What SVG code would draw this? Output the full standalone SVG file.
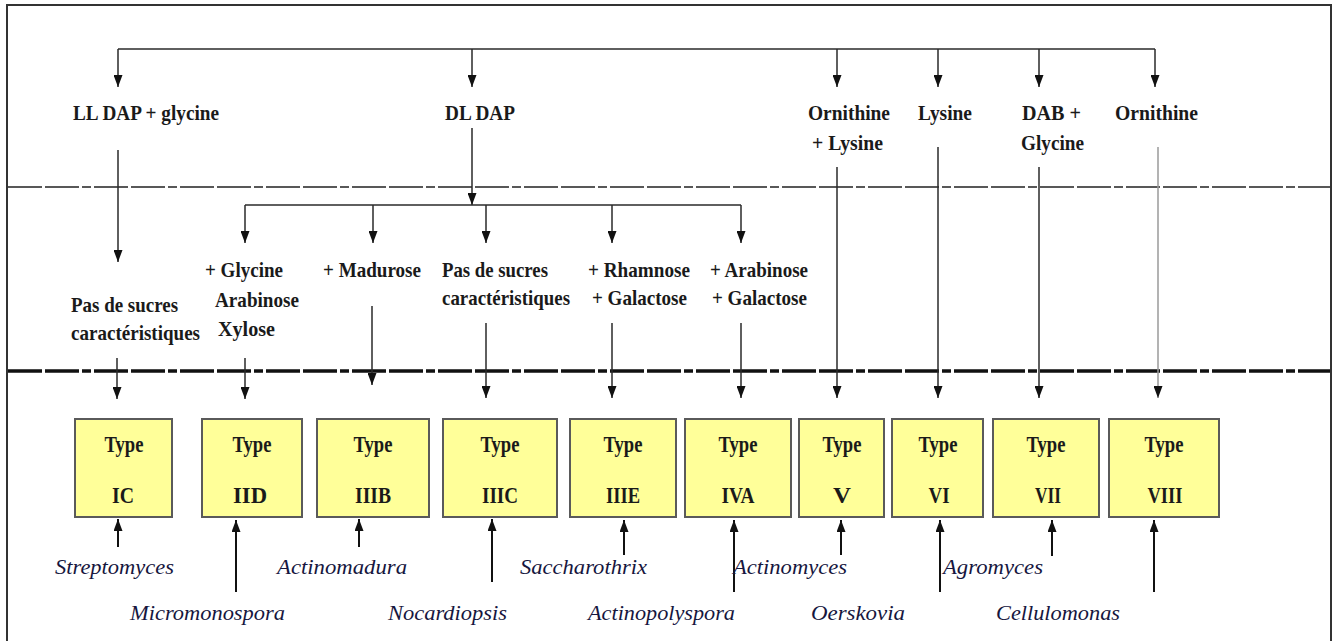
<svg xmlns="http://www.w3.org/2000/svg" width="1338" height="641" viewBox="0 0 1338 641" font-family="Liberation Serif">
<style>
.lbl{font-weight:bold;font-size:21px;fill:#1a1a1a}
.typ{font-weight:bold;font-size:24px;fill:#1a1a1a;text-anchor:middle}
.gen{font-style:italic;font-size:22px;fill:#16163e}
.box{fill:#FFFF99;stroke:#5a5a5a;stroke-width:2}
.c{stroke:#2a2a2a;stroke-width:1.5;fill:none}
.cd{stroke:#2a2a2a;stroke-width:1.5;fill:none;marker-end:url(#ah)}
.cg{stroke:#9a9a9a;stroke-width:1.5;fill:none;marker-end:url(#ah)}
.up{stroke:#111;stroke-width:2;fill:none;marker-end:url(#ah)}
.sep{stroke-dasharray:34 3 34 3 9 3}
</style>
<defs>
<marker id="ah" viewBox="0 0 12 9" refX="12" refY="4.5" markerWidth="12" markerHeight="9" markerUnits="userSpaceOnUse" orient="auto">
<path d="M0,0 L12,4.5 L0,9 z" fill="#111"/>
</marker>
</defs>
<rect x="0" y="0" width="1338" height="641" fill="#fff"/>
<rect x="7" y="5" width="1324" height="650" fill="#fff" stroke="#333" stroke-width="2"/>
<g id="separators">
<line class="sep" x1="8" y1="187" x2="1330" y2="187" stroke="#222" stroke-width="1.5"/>
<line class="sep" x1="8" y1="371" x2="1330" y2="371" stroke="#111" stroke-width="3.5"/>
</g>
<g id="connectors">
<path class="c" d="M118,49 H1155"/>
<line class="cd" x1="118" y1="49" x2="118" y2="87"/>
<line class="cd" x1="472" y1="49" x2="472" y2="87"/>
<line class="cd" x1="837" y1="49" x2="837" y2="87"/>
<line class="cd" x1="938" y1="49" x2="938" y2="87"/>
<line class="cd" x1="1039" y1="49" x2="1039" y2="87"/>
<line class="cd" x1="1155" y1="49" x2="1155" y2="87"/>
<line class="cd" x1="118" y1="150" x2="118" y2="262"/>
<line class="cd" x1="472" y1="128" x2="472" y2="205"/>
<path class="c" d="M245,205 H741"/>
<line class="cd" x1="245" y1="205" x2="245" y2="243"/>
<line class="cd" x1="373" y1="205" x2="373" y2="243"/>
<line class="cd" x1="486" y1="205" x2="486" y2="243"/>
<line class="cd" x1="612" y1="205" x2="612" y2="243"/>
<line class="cd" x1="741" y1="205" x2="741" y2="243"/>
<line class="cd" x1="117" y1="358" x2="117" y2="399"/>
<line class="cd" x1="245" y1="358" x2="245" y2="399"/>
<line class="cd" x1="372" y1="306" x2="372" y2="385"/>
<line class="cd" x1="486" y1="323" x2="486" y2="398"/>
<line class="cd" x1="612" y1="323" x2="612" y2="398"/>
<line class="cd" x1="741" y1="323" x2="741" y2="398"/>
<line class="cd" x1="837" y1="167" x2="837" y2="398"/>
<line class="cd" x1="938" y1="147" x2="938" y2="398"/>
<line class="cd" x1="1039" y1="167" x2="1039" y2="398"/>
<line class="cg" x1="1158" y1="147" x2="1158" y2="398"/>
<line class="up" x1="118" y1="547" x2="118" y2="519"/>
<line class="up" x1="236" y1="592" x2="236" y2="520"/>
<line class="up" x1="359" y1="547" x2="359" y2="519"/>
<line class="up" x1="492" y1="582" x2="492" y2="519"/>
<line class="up" x1="624" y1="555" x2="624" y2="520"/>
<line class="up" x1="734" y1="592" x2="734" y2="520"/>
<line class="up" x1="841" y1="555" x2="841" y2="520"/>
<line class="up" x1="940" y1="592" x2="940" y2="520"/>
<line class="up" x1="1052" y1="556" x2="1052" y2="520"/>
<line class="up" x1="1154" y1="592" x2="1154" y2="520"/>
</g>
<g id="n-lldap"><text class="lbl" x="73" y="120" textLength="146" lengthAdjust="spacingAndGlyphs">LL DAP + glycine</text></g>
<g id="n-dldap"><text class="lbl" x="445" y="120" textLength="70" lengthAdjust="spacingAndGlyphs">DL DAP</text></g>
<g id="n-ornlys"><text class="lbl" x="808" y="120" textLength="82" lengthAdjust="spacingAndGlyphs">Ornithine</text><text class="lbl" x="812" y="150" textLength="71" lengthAdjust="spacingAndGlyphs">+ Lysine</text></g>
<g id="n-lysine"><text class="lbl" x="918" y="120" textLength="54" lengthAdjust="spacingAndGlyphs">Lysine</text></g>
<g id="n-dab"><text class="lbl" x="1022" y="120" textLength="59" lengthAdjust="spacingAndGlyphs">DAB +</text><text class="lbl" x="1021" y="150" textLength="63" lengthAdjust="spacingAndGlyphs">Glycine</text></g>
<g id="n-orn"><text class="lbl" x="1115" y="120" textLength="83" lengthAdjust="spacingAndGlyphs">Ornithine</text></g>
<g id="n-pas1"><text class="lbl" x="71" y="312" textLength="107" lengthAdjust="spacingAndGlyphs">Pas de sucres</text><text class="lbl" x="71" y="340" textLength="129" lengthAdjust="spacingAndGlyphs">caractéristiques</text></g>
<g id="n-gly"><text class="lbl" x="205" y="277" textLength="78" lengthAdjust="spacingAndGlyphs">+ Glycine</text><text class="lbl" x="215" y="307" textLength="84" lengthAdjust="spacingAndGlyphs">Arabinose</text><text class="lbl" x="218" y="336" textLength="57" lengthAdjust="spacingAndGlyphs">Xylose</text></g>
<g id="n-mad"><text class="lbl" x="323" y="277" textLength="98" lengthAdjust="spacingAndGlyphs">+ Madurose</text></g>
<g id="n-pas2"><text class="lbl" x="442" y="277" textLength="106" lengthAdjust="spacingAndGlyphs">Pas de sucres</text><text class="lbl" x="442" y="305" textLength="128" lengthAdjust="spacingAndGlyphs">caractéristiques</text></g>
<g id="n-rha"><text class="lbl" x="588" y="277" textLength="102" lengthAdjust="spacingAndGlyphs">+ Rhamnose</text><text class="lbl" x="592" y="305" textLength="95" lengthAdjust="spacingAndGlyphs">+ Galactose</text></g>
<g id="n-ara"><text class="lbl" x="710" y="277" textLength="98" lengthAdjust="spacingAndGlyphs">+ Arabinose</text><text class="lbl" x="712" y="305" textLength="95" lengthAdjust="spacingAndGlyphs">+ Galactose</text></g>
<g id="t-IC"><rect class="box" x="75" y="419" width="97" height="98"/><text class="typ" x="124" y="452" textLength="39" lengthAdjust="spacingAndGlyphs">Type</text><text class="typ" x="123" y="503" textLength="22" lengthAdjust="spacingAndGlyphs">IC</text></g>
<g id="t-IID"><rect class="box" x="202" y="419" width="100" height="98"/><text class="typ" x="252" y="452" textLength="39" lengthAdjust="spacingAndGlyphs">Type</text><text class="typ" x="250" y="503" textLength="34" lengthAdjust="spacingAndGlyphs">IID</text></g>
<g id="t-IIIB"><rect class="box" x="317" y="419" width="112" height="98"/><text class="typ" x="373" y="452" textLength="39" lengthAdjust="spacingAndGlyphs">Type</text><text class="typ" x="373" y="503" textLength="36" lengthAdjust="spacingAndGlyphs">IIIB</text></g>
<g id="t-IIIC"><rect class="box" x="443" y="419" width="114" height="98"/><text class="typ" x="500" y="452" textLength="39" lengthAdjust="spacingAndGlyphs">Type</text><text class="typ" x="500" y="503" textLength="36" lengthAdjust="spacingAndGlyphs">IIIC</text></g>
<g id="t-IIIE"><rect class="box" x="570" y="419" width="106" height="98"/><text class="typ" x="623" y="452" textLength="39" lengthAdjust="spacingAndGlyphs">Type</text><text class="typ" x="623" y="503" textLength="34" lengthAdjust="spacingAndGlyphs">IIIE</text></g>
<g id="t-IVA"><rect class="box" x="685" y="419" width="106" height="98"/><text class="typ" x="738" y="452" textLength="39" lengthAdjust="spacingAndGlyphs">Type</text><text class="typ" x="738" y="503" textLength="33" lengthAdjust="spacingAndGlyphs">IVA</text></g>
<g id="t-V"><rect class="box" x="799" y="419" width="85" height="98"/><text class="typ" x="842" y="452" textLength="39" lengthAdjust="spacingAndGlyphs">Type</text><text class="typ" x="842" y="503" textLength="18" lengthAdjust="spacingAndGlyphs">V</text></g>
<g id="t-VI"><rect class="box" x="892" y="419" width="91" height="98"/><text class="typ" x="938" y="452" textLength="39" lengthAdjust="spacingAndGlyphs">Type</text><text class="typ" x="939" y="503" textLength="21" lengthAdjust="spacingAndGlyphs">VI</text></g>
<g id="t-VII"><rect class="box" x="993" y="419" width="106" height="98"/><text class="typ" x="1046" y="452" textLength="39" lengthAdjust="spacingAndGlyphs">Type</text><text class="typ" x="1048" y="503" textLength="26" lengthAdjust="spacingAndGlyphs">VII</text></g>
<g id="t-VIII"><rect class="box" x="1109" y="419" width="110" height="98"/><text class="typ" x="1164" y="452" textLength="39" lengthAdjust="spacingAndGlyphs">Type</text><text class="typ" x="1165" y="503" textLength="35" lengthAdjust="spacingAndGlyphs">VIII</text></g>
<g id="genera">
<text class="gen" x="55" y="574" textLength="119" lengthAdjust="spacingAndGlyphs">Streptomyces</text>
<text class="gen" x="130" y="620" textLength="155" lengthAdjust="spacingAndGlyphs">Micromonospora</text>
<text class="gen" x="277" y="574" textLength="130" lengthAdjust="spacingAndGlyphs">Actinomadura</text>
<text class="gen" x="388" y="620" textLength="119" lengthAdjust="spacingAndGlyphs">Nocardiopsis</text>
<text class="gen" x="520" y="574" textLength="127" lengthAdjust="spacingAndGlyphs">Saccharothrix</text>
<text class="gen" x="588" y="620" textLength="147" lengthAdjust="spacingAndGlyphs">Actinopolyspora</text>
<text class="gen" x="733" y="574" textLength="114" lengthAdjust="spacingAndGlyphs">Actinomyces</text>
<text class="gen" x="811" y="620" textLength="94" lengthAdjust="spacingAndGlyphs">Oerskovia</text>
<text class="gen" x="943" y="574" textLength="100" lengthAdjust="spacingAndGlyphs">Agromyces</text>
<text class="gen" x="996" y="620" textLength="124" lengthAdjust="spacingAndGlyphs">Cellulomonas</text>
</g>
</svg>
